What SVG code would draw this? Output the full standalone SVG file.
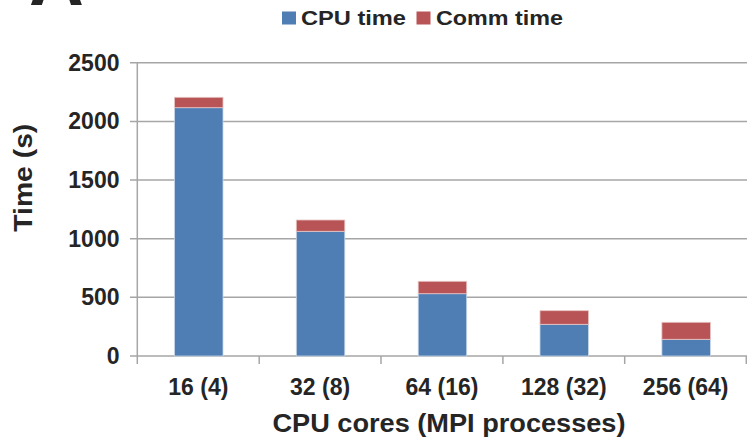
<svg xmlns="http://www.w3.org/2000/svg" width="747" height="443" viewBox="0 0 747 443">
  <style>
    text { font-family: "Liberation Sans", Arial, Helvetica, sans-serif; font-weight: bold; fill: #252525; }
    .ylab { font-size: 23px; text-anchor: end; }
    .xlab { font-size: 23px; text-anchor: middle; }
    .grid { stroke: #a6a6a6; stroke-width: 1.5; fill: none; }
    .cpu { fill: #4E7EB3; stroke: #c9d7ea; stroke-width: 0.8; }
    .comm { fill: #B85456; stroke: #e8c4c4; stroke-width: 0.8; }
  </style>
  <rect width="747" height="443" fill="#ffffff"/>

  <text id="panel-label" x="29" y="5" style="font-size:76px" fill="#2b2b2b">A</text>

  <g id="legend">
    <rect x="282" y="11.5" width="14" height="13" fill="#4E7EB3"/>
    <text x="301" y="25" style="font-size:21px" textLength="105" lengthAdjust="spacingAndGlyphs">CPU time</text>
    <rect x="416.5" y="11.5" width="14" height="13" fill="#B85456"/>
    <text x="436" y="25" style="font-size:21px" textLength="127" lengthAdjust="spacingAndGlyphs">Comm time</text>
  </g>

  <g id="axes">
    <line class="grid" x1="130" y1="62.7" x2="747" y2="62.7"/>
    <line class="grid" x1="130" y1="121.4" x2="747" y2="121.4"/>
    <line class="grid" x1="130" y1="180" x2="747" y2="180"/>
    <line class="grid" x1="130" y1="238.7" x2="747" y2="238.7"/>
    <line class="grid" x1="130" y1="297.3" x2="747" y2="297.3"/>
    <line class="grid" x1="130" y1="356" x2="747" y2="356"/>
    <line class="grid" x1="137.3" y1="62" x2="137.3" y2="364"/>
    <line class="grid" x1="259.2" y1="356" x2="259.2" y2="364"/>
    <line class="grid" x1="381" y1="356" x2="381" y2="364"/>
    <line class="grid" x1="502.9" y1="356" x2="502.9" y2="364"/>
    <line class="grid" x1="624.7" y1="356" x2="624.7" y2="364"/>
    <line class="grid" x1="746.3" y1="356" x2="746.3" y2="364"/>
  </g>

  <g id="y-labels">
    <text class="ylab" x="119.5" y="70.7">2500</text>
    <text class="ylab" x="119.5" y="129.4">2000</text>
    <text class="ylab" x="119.5" y="188">1500</text>
    <text class="ylab" x="119.5" y="246.7">1000</text>
    <text class="ylab" x="119.5" y="305.3">500</text>
    <text class="ylab" x="119.5" y="364">0</text>
  </g>

  <g id="bar-16">
    <rect class="cpu" x="174.5" y="107.7" width="48.5" height="248.3"/>
    <rect class="comm" x="174.5" y="97.3" width="48.5" height="10.4"/>
  </g>
  <g id="bar-32">
    <rect class="cpu" x="296.3" y="231.3" width="48.5" height="124.7"/>
    <rect class="comm" x="296.3" y="220" width="48.5" height="11.3"/>
  </g>
  <g id="bar-64">
    <rect class="cpu" x="418.2" y="293.7" width="48.5" height="62.3"/>
    <rect class="comm" x="418.2" y="281.3" width="48.5" height="12.4"/>
  </g>
  <g id="bar-128">
    <rect class="cpu" x="540" y="324.3" width="48.5" height="31.7"/>
    <rect class="comm" x="540" y="310.7" width="48.5" height="13.6"/>
  </g>
  <g id="bar-256">
    <rect class="cpu" x="661.9" y="339.3" width="48.5" height="16.7"/>
    <rect class="comm" x="661.9" y="322.3" width="48.5" height="17"/>
  </g>

  <g id="x-labels">
    <text class="xlab" x="198.3" y="395">16 (4)</text>
    <text class="xlab" x="320.1" y="395">32 (8)</text>
    <text class="xlab" x="442" y="395">64 (16)</text>
    <text class="xlab" x="563.8" y="395">128 (32)</text>
    <text class="xlab" x="685.7" y="395">256 (64)</text>
  </g>

  <text id="x-title" x="272.5" y="432" style="font-size:25px" textLength="353" lengthAdjust="spacingAndGlyphs">CPU cores (MPI processes)</text>
  <text id="y-title" transform="translate(31.5,231.7) rotate(-90)" x="0" y="0" style="font-size:25px" textLength="108" lengthAdjust="spacingAndGlyphs">Time (s)</text>
</svg>
